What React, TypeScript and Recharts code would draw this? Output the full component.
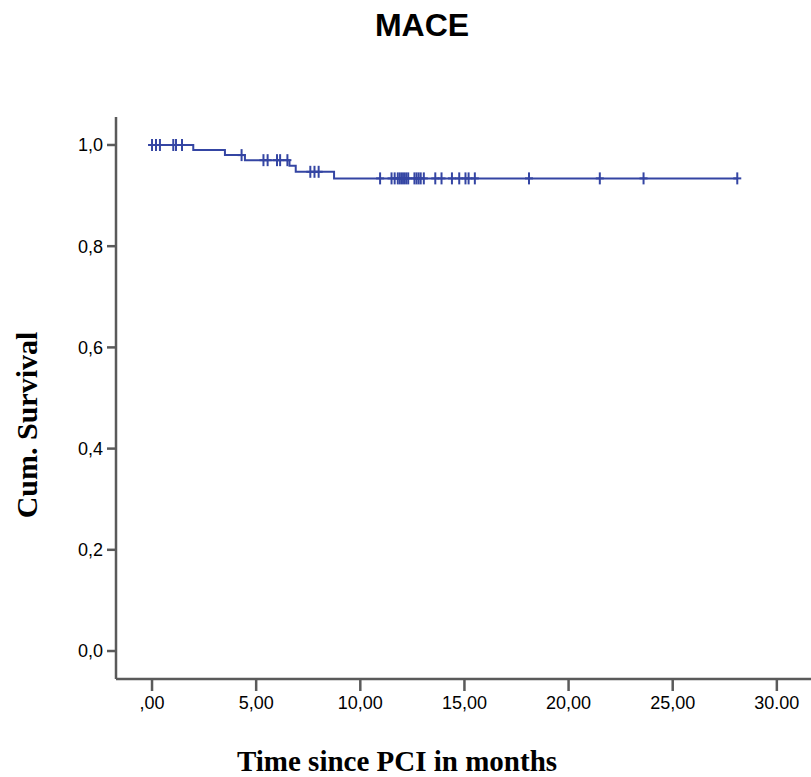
import { ComposedChart, Line, Scatter, XAxis, YAxis } from "recharts";

// Kaplan-Meier steps (time in months, cumulative survival)
const kmTime = [0, 1.98, 3.5, 4.46, 6.6, 6.9, 8.74, 28.1];
const kmSurv = [1.0, 0.99, 0.98, 0.97, 0.959, 0.947, 0.934, 0.934];

// censored observations (months)
const censorTimes = [
  0, 0.19, 0.38, 1.02, 1.15, 1.44, 4.3, 5.35, 5.55, 6.0, 6.15, 6.5, 7.6, 7.8, 8.0,
  10.95, 11.5, 11.65, 11.8, 11.9, 12.0, 12.1, 12.2, 12.3, 12.6, 12.7, 12.8, 12.9, 13.05,
  13.6, 13.9, 14.4, 14.75, 15.05, 15.2, 15.5, 18.1, 21.5, 23.6, 28.1,
];

const xTicks = [0, 5, 10, 15, 20, 25, 30];
const xTickLabels = [",00", "5,00", "10,00", "15,00", "20,00", "25,00", "30.00"];
const yTicks = [0, 0.2, 0.4, 0.6, 0.8, 1.0];
const yTickLabels = ["0,0", "0,2", "0,4", "0,6", "0,8", "1,0"];

const LINE = "#3445a3";
const AXIS = "#5a5a5a";

const stepData = kmTime.map((t, i) => ({ t, s: kmSurv[i] }));

// survival value at a given time
function survAt(t: number) {
  let s = kmSurv[0];
  for (let i = 0; i < kmTime.length; i++) {
    if (kmTime[i] <= t) s = kmSurv[i];
  }
  return s;
}

const censorData = censorTimes.map((t) => ({ t, s: survAt(t) }));

function CensorMark(props: any) {
  const { cx, cy } = props;
  if (cx == null || cy == null) return null;
  return (
    <g stroke={LINE} strokeWidth={2}>
      <line x1={cx} y1={cy - 6} x2={cx} y2={cy + 6} />
      <line x1={cx - 4} y1={cy} x2={cx + 4} y2={cy} />
    </g>
  );
}

export default function App() {
  return (
    <div style={{ position: "absolute", left: 0, top: 0, width: 811, height: 777, background: "#fff" }}>
      <div
        style={{
          position: "absolute",
          left: 322,
          top: 8,
          width: 200,
          textAlign: "center",
          fontFamily: "'Liberation Sans', Arial, sans-serif",
          fontWeight: "bold",
          fontSize: 32,
          lineHeight: "34px",
          color: "#000",
        }}
      >
        MACE
      </div>
      <div
        style={{
          position: "absolute",
          left: 27,
          top: 425,
          transform: "translate(-50%, -50%) rotate(-90deg)",
          whiteSpace: "nowrap",
          fontFamily: "'Liberation Serif', 'Times New Roman', serif",
          fontWeight: "bold",
          fontSize: 30,
          color: "#000",
        }}
      >
        Cum. Survival
      </div>
      <div
        style={{
          position: "absolute",
          left: 197,
          top: 745,
          width: 400,
          textAlign: "center",
          whiteSpace: "nowrap",
          fontFamily: "'Liberation Serif', 'Times New Roman', serif",
          fontWeight: "bold",
          fontSize: 29,
          lineHeight: "32px",
          color: "#000",
        }}
      >
        Time since PCI in months
      </div>
      <ComposedChart width={811} height={777} margin={{ top: 117, right: 0, bottom: 0, left: 0 }}>
        <XAxis
          type="number"
          dataKey="t"
          domain={[-1.73, 31.64]}
          allowDataOverflow
          ticks={xTicks}
          tickFormatter={(v) => xTickLabels[xTicks.indexOf(v)]}
          height={98}
          tickSize={12}
          tickMargin={5}
          axisLine={{ stroke: AXIS, strokeWidth: 2.5 }}
          tickLine={{ stroke: AXIS, strokeWidth: 2.5 }}
          tick={{ fill: "#000", fontSize: 18, fontFamily: "'Liberation Sans', Arial, sans-serif" }}
        />
        <YAxis
          type="number"
          dataKey="s"
          domain={[-0.0553, 1.0553]}
          allowDataOverflow
          ticks={yTicks}
          tickFormatter={(v) => yTickLabels[yTicks.indexOf(v)]}
          width={116}
          tickSize={9}
          tickMargin={4}
          axisLine={{ stroke: AXIS, strokeWidth: 2.5 }}
          tickLine={{ stroke: AXIS, strokeWidth: 2.5 }}
          tick={{ fill: "#000", fontSize: 18, fontFamily: "'Liberation Sans', Arial, sans-serif" }}
        />
        <Line
          data={stepData}
          dataKey="s"
          type="stepAfter"
          stroke={LINE}
          strokeWidth={2}
          dot={false}
          activeDot={false}
          isAnimationActive={false}
        />
        <Scatter data={censorData} dataKey="s" shape={CensorMark} isAnimationActive={false} />
      </ComposedChart>
    </div>
  );
}
